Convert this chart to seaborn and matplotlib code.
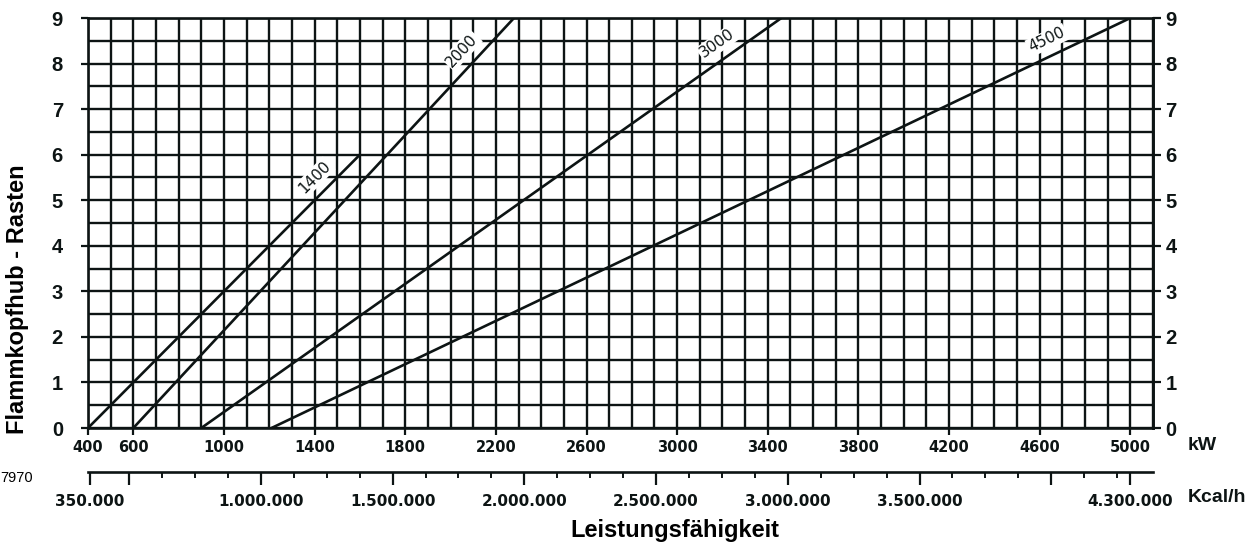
import math

import matplotlib
matplotlib.use("Agg")
import matplotlib.pyplot as plt
import numpy as np
import pandas as pd
import seaborn as sns

# Flammkopf setting (Rasten) against firing rate for four burner sizes
curve_names = ["1400", "2000", "3000", "4500"]
kw_start = [400, 600, 900, 1210]
kw_end = [1600, 2280, 3460, 5000]
rast_start = [0, 0, 0, 0]
rast_end = [6, 9, 9, 9]

# Axis scales
kw_ticks = [400, 600, 1000, 1400, 1800, 2200, 2600, 3000, 3400, 3800, 4200, 4600, 5000]
rast_ticks = [0, 1, 2, 3, 4, 5, 6, 7, 8, 9]
kcal_ticks = [350000, 500000, 1000000, 1500000, 2000000, 2500000,
              3000000, 3500000, 4000000, 4300000]
kcal_labels = ["350.000", "", "1.000.000", "1.500.000", "2.000.000", "2.500.000",
               "3.000.000", "3.500.000", "", "4.300.000"]
kcal_minor_ticks = list(range(500000, 4300001, 125000))
KCAL_PER_KW = 860

sns.set_theme(style="white")
plt.rcParams["font.family"] = ["Liberation Sans", "DejaVu Sans"]

INK = "#0d1414"
W, H = 1255, 544
fig = plt.figure(figsize=(W / 100, H / 100), dpi=100)
fig.patch.set_facecolor("white")
ax = fig.add_axes([88 / W, 1 - 428 / H, (1153 - 88) / W, (428 - 18) / H])

rows = []
for name, k0, k1, r0, r1 in zip(curve_names, kw_start, kw_end, rast_start, rast_end):
    rows.append({"Kurve": name, "kW": k0, "Rasten": r0})
    rows.append({"Kurve": name, "kW": k1, "Rasten": r1})
df = pd.DataFrame(rows)

sns.lineplot(data=df, x="kW", y="Rasten", hue="Kurve", palette=[INK] * len(curve_names),
             estimator=None, sort=False, legend=False, linewidth=1.9, ax=ax)

ax.set_xlim(400, 5100)
ax.set_ylim(0, 9)
ax.set_xlabel("")
ax.set_ylabel("")

# Dense millimetre-style grid: every 100 kW and every half Raste
ax.set_xticks(kw_ticks)
ax.set_xticks(list(range(400, 5101, 100)), minor=True)
ax.set_yticks(rast_ticks)
ax.set_yticks([i * 0.5 for i in range(19)], minor=True)
ax.grid(which="both", color=INK, linewidth=1.7)

for side in ["left", "right", "top", "bottom"]:
    ax.spines[side].set_color(INK)
    ax.spines[side].set_linewidth(1.9)

ax.tick_params(which="minor", length=0)
ax.tick_params(axis="y", which="major", left=True, length=5, width=1.6, color=INK,
               pad=13, labelsize=14.5, labelcolor=INK)
ax.tick_params(axis="x", which="major", bottom=True, length=5, width=1.6, color=INK,
               pad=4, labelsize=10.5, labelcolor=INK)
for lab in ax.get_yticklabels():
    lab.set_fontweight("bold")
for lab in ax.get_xticklabels():
    lab.set_fontweight("bold")
    lab.set_fontfamily("DejaVu Sans")

# Right-hand duplicate of the Rasten scale
ry = ax.secondary_yaxis("right")
ry.set_yticks(rast_ticks)
ry.tick_params(length=6, width=1.6, color=INK, pad=3, labelsize=14.5, labelcolor=INK)
ry.spines["right"].set_color(INK)
ry.spines["right"].set_linewidth(1.9)
for lab in ry.get_yticklabels():
    lab.set_fontweight("bold")

# Second scale in Kcal/h below the kW axis
kx = ax.secondary_xaxis(-0.107, functions=(lambda k: k * KCAL_PER_KW,
                                           lambda c: c / KCAL_PER_KW))
kx.set_xticks(kcal_ticks, labels=kcal_labels)
kx.set_xticks(kcal_minor_ticks, minor=True)
kx.tick_params(which="major", length=9, width=1.6, color=INK, pad=7,
               labelsize=11, labelcolor=INK)
kx.tick_params(which="minor", length=4, width=1.4, color=INK)
kx.spines["bottom"].set_color(INK)
kx.spines["bottom"].set_linewidth(1.9)
for lab in kx.get_xticklabels():
    lab.set_fontweight("bold")
    lab.set_fontfamily("DejaVu Sans")

# Curve captions, written along each line just above it
label_height = {"1400": 5.25, "2000": 8.05, "3000": 8.15, "4500": 8.2}
for name, k0, k1, r0, r1 in zip(curve_names, kw_start, kw_end, rast_start, rast_end):
    p0 = ax.transData.transform((k0, r0))
    p1 = ax.transData.transform((k1, r1))
    ang = math.atan2(p1[1] - p0[1], p1[0] - p0[0])
    r = label_height[name]
    k = k0 + (k1 - k0) * (r - r0) / (r1 - r0)
    off = 16
    ax.annotate(name, (k, r), xytext=(-math.sin(ang) * off, math.cos(ang) * off),
                textcoords="offset pixels", rotation=math.degrees(ang),
                rotation_mode="anchor", ha="center", va="center",
                fontsize=11, color=INK, family="DejaVu Sans",
                bbox=dict(boxstyle="square,pad=0.1", fc="white", ec="none"),
                zorder=5)

fig.text(1188 / W, 1 - 446 / H, "kW", ha="left", va="center", fontsize=14,
         fontweight="bold", color=INK)
fig.text(1188 / W, 1 - 498 / H, "Kcal/h", ha="left", va="center", fontsize=14,
         fontweight="bold", color=INK)
fig.text(675 / W, 1 - 531 / H, "Leistungsfähigkeit", ha="center", va="center",
         fontsize=17, fontweight="bold", color="black")
fig.text(18 / W, 1 - 299 / H, "Flammkopfhub - Rasten", rotation=90, ha="center",
         va="center", fontsize=17, fontweight="bold", color="black")
fig.text(0, 1 - 478 / H, "7970", ha="left", va="center", fontsize=10.5, color="black")

fig.savefig("out.png", dpi=100, facecolor="white")
